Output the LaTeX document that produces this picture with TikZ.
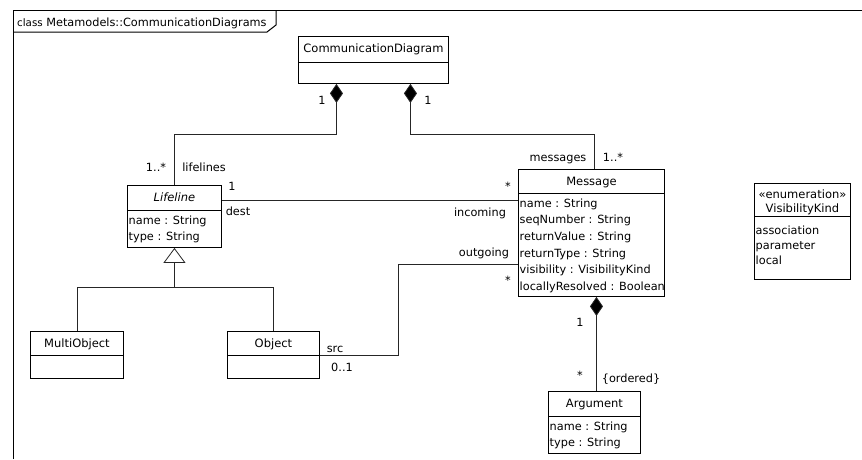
\documentclass[tikz,border=0pt]{standalone}
\usepackage{fontspec}
\setmainfont{DejaVu Sans}
\usetikzlibrary{arrows.meta,calc}
\begin{document}
\begin{tikzpicture}[x=1pt,y=-1pt,
  every node/.style={font=\fontsize{11.3}{13}\selectfont, inner sep=0pt},
  classbox/.style={draw=black, line width=0.9pt, anchor=north west, fill=white, inner sep=0pt},
  cname/.style={anchor=base, font=\fontsize{11.5}{13}\selectfont},
  attr/.style={anchor=base west},
  lbl/.style={anchor=base},
  conn/.style={draw=black!85, line width=0.8pt},
  comp/.style={conn, {Diamond[length=19pt,width=13pt,fill=black]}-},
  gen/.style={conn, -{Triangle[open,length=15pt,width=22pt,fill=white]}},
  divider/.style={draw=black, line width=0.9pt},
  framepath/.style={draw=black, line width=1pt}
]
\path[use as bounding box, fill=white] (0,0) rectangle (862,459);

% frame
\draw[framepath] (13,459) -- (13,10.5) -- (862,10.5);
\draw[framepath] (13,32) -- (267,32) -- (276,25) -- (276,10.5);
\node[anchor=base west] (frametitle) at (17,26) {{\fontsize{10.3}{12}\selectfont class} Metamodels::CommunicationDiagrams};

% class boxes
\node[classbox, minimum width=150pt, minimum height=47pt] (cd) at (298,36) {};
\node[classbox, minimum width=94pt, minimum height=62pt] (ll) at (127,185) {};
\node[classbox, minimum width=146pt, minimum height=127pt] (msg) at (518,169) {};
\node[classbox, minimum width=93pt, minimum height=47pt] (mo) at (30,331) {};
\node[classbox, minimum width=92pt, minimum height=47pt] (obj) at (227,331) {};
\node[classbox, minimum width=92pt, minimum height=62pt] (arg) at (548,391) {};
\node[classbox, minimum width=96pt, minimum height=96pt] (vk) at (754,183) {};

% dividers
\draw[divider] ([yshift=-26pt]cd.north west) -- ([yshift=-26pt]cd.north east);
\draw[divider] ([yshift=-25pt]ll.north west) -- ([yshift=-25pt]ll.north east);
\draw[divider] ([yshift=-24pt]msg.north west) -- ([yshift=-24pt]msg.north east);
\draw[divider] ([yshift=-24pt]mo.north west) -- ([yshift=-24pt]mo.north east);
\draw[divider] ([yshift=-24pt]obj.north west) -- ([yshift=-24pt]obj.north east);
\draw[divider] ([yshift=-25pt]arg.north west) -- ([yshift=-25pt]arg.north east);
\draw[divider] ([yshift=-33pt]vk.north west) -- ([yshift=-33pt]vk.north east);

% class names
\node[cname] (cd-n) at ($(cd.north)+(0,16)$) {CommunicationDiagram};
\node[cname] (ll-n) at ($(ll.north)+(0,16.5)$) {\itshape Lifeline};
\node[cname] (msg-n) at ($(msg.north)+(0,16.5)$) {Message};
\node[cname] (mo-n) at ($(mo.north)+(0,16.5)$) {MultiObject};
\node[cname] (obj-n) at ($(obj.north)+(0,16.5)$) {Object};
\node[cname] (arg-n) at ($(arg.north)+(0,16.5)$) {Argument};
\node[cname] (vk-s) at ($(vk.north)+(0,15)$) {«enumeration»};
\node[cname] (vk-n) at ($(vk.north)+(0,29)$) {VisibilityKind};

% attributes
\foreach \t [count=\i] in {name : String, type : String}
  \node[attr] (ll-a\i) at ($(ll.north west)+(1.5,{39+16.7*(\i-1)})$) {\t};
\foreach \t [count=\i] in {name : String, seqNumber : String, returnValue : String, returnType : String, visibility : VisibilityKind, locallyResolved : Boolean}
  \node[attr] (msg-a\i) at ($(msg.north west)+(1.5,{38+16.7*(\i-1)})$) {\t};
\foreach \t [count=\i] in {name : String, type : String}
  \node[attr] (arg-a\i) at ($(arg.north west)+(1.5,{39+16.7*(\i-1)})$) {\t};
\foreach \t [count=\i] in {association, parameter, local}
  \node[attr] (vk-a\i) at ($(vk.north west)+(1.5,{51+15*(\i-1)})$) {\t};

% connectors
\coordinate (cdL) at ([xshift=-37pt]cd.south);
\coordinate (cdR) at ([xshift=37pt]cd.south);
\coordinate (msgT) at ([xshift=3pt]msg.north);
\draw[comp] (cdL) -- ++(0,50) -| (ll.north);
\draw[comp] (cdR) -- ++(0,50) -| (msgT);

\coordinate (llD) at ([yshift=16pt]ll.east);
\draw[conn] (llD) -- (llD -| msg.west);

\coordinate (msgO) at ([yshift=-31.5pt]msg.west);
\draw[conn] (obj.east) -- ++(78,0) |- (msgO);

\coordinate (gbus) at ([yshift=-39pt]ll.south);
\draw[gen] (gbus) -- (ll.south);
\draw[conn] (mo.north) |- (gbus) -| (obj.north);

\coordinate (mA) at ([xshift=5pt]msg.south);
\draw[comp] (mA) -- (mA |- arg.north);

% labels
\node[lbl] (l1) at (322,104) {1};
\node[lbl] (l2) at (428,104) {1};
\node[lbl] (l3) at (156,171) {1..*};
\node[lbl] (l4) at (204,171) {lifelines};
\node[lbl] (l5) at (232,190) {1};
\node[lbl] (l6) at (238,215) {dest};
\node[lbl] (l7) at (558,161.5) {messages};
\node[lbl] (l8) at (613,161.5) {1..*};
\node[lbl] (l9) at (508,190) {*};
\node[lbl] (l10) at (480,216) {incoming};
\node[lbl] (l11) at (484,256.5) {outgoing};
\node[lbl] (l12) at (508,284) {*};
\node[lbl] (l13) at (335,352) {src};
\node[lbl] (l14) at (342,371) {0..1};
\node[lbl] (l15) at (580,326) {1};
\node[lbl] (l16) at (580,379) {*};
\node[lbl] (l17) at (631,382) {\{ordered\}};
\end{tikzpicture}
\end{document}
